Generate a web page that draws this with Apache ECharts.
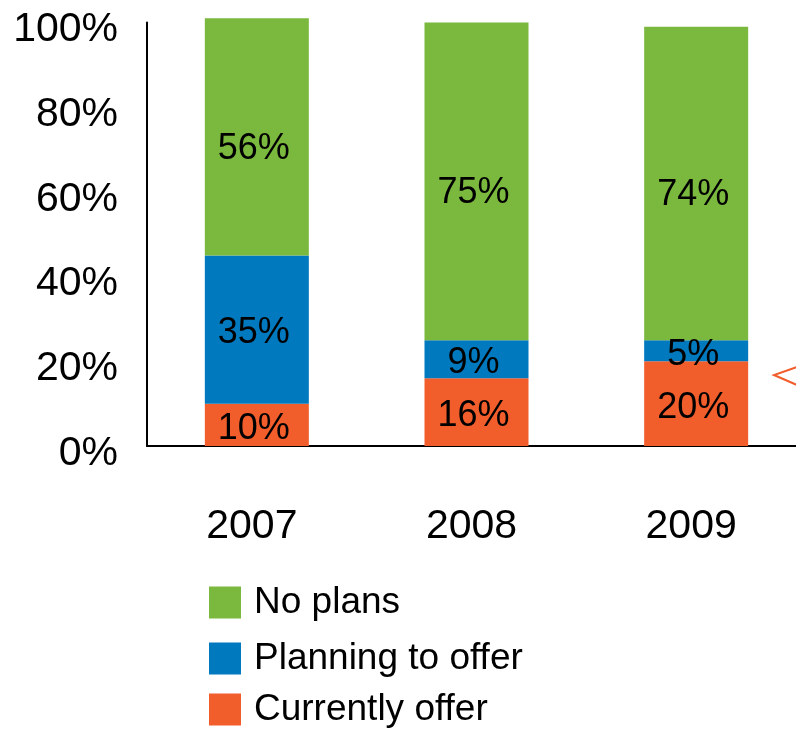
<!DOCTYPE html>
<html>
<head>
<meta charset="utf-8">
<script src="https://cdn.jsdelivr.net/npm/echarts@6/dist/echarts.min.js"></script>
<style>
  html, body { margin: 0; padding: 0; background: #fff; overflow: hidden; }
  /* the plot runs past the right edge of the page, as in the slide it came from */
  #chart { width: 812px; height: 729px; }
</style>
</head>
<body>
<div id="chart"></div>
<script>
// Survey answers by year, as percent of respondents
const years = ['2007', '2008', '2009'];
const currentlyOffer = [10, 16, 20];
const planningToOffer = [35, 9, 5];
const noPlans = [56, 75, 74];
const yTicks = [0, 20, 40, 60, 80, 100];

const FONT = '"Liberation Sans", Arial, sans-serif';
const GREEN = '#7AB83E';
const BLUE = '#0079BE';
const ORANGE = '#F15D2B';

const chart = echarts.init(document.getElementById('chart'), null, { renderer: 'canvas' });

function barSeries(name, data, color, labelOffset) {
  return {
    name: name,
    type: 'bar',
    stack: 'total',
    data: data,
    barWidth: 104,
    clip: false,
    itemStyle: { color: color },
    label: {
      show: true,
      position: 'inside',
      formatter: '{c}%',
      color: '#000',
      fontSize: 36,
      fontFamily: FONT,
      offset: labelOffset
    }
  };
}

function legendRow(name, top) {
  return {
    data: [name],
    left: 209,
    top: top,
    padding: 0,
    orient: 'vertical',
    icon: 'rect',
    itemWidth: 32,
    itemHeight: 32,
    selectedMode: false,
    textStyle: { fontSize: 37, fontFamily: FONT, color: '#000', padding: [0, 0, 0, 8] }
  };
}

chart.setOption({
  animation: false,
  backgroundColor: '#fff',
  grid: { left: 147, top: 22.5, width: 659, height: 423.5, containLabel: false },
  xAxis: {
    type: 'category',
    data: years,
    axisLine: { show: true, lineStyle: { color: '#000', width: 2 } },
    axisTick: { show: false },
    axisLabel: { color: '#000', fontSize: 41, fontFamily: FONT, margin: 60, padding: [0, 10, 0, 0] },
    splitLine: { show: false }
  },
  yAxis: {
    type: 'value',
    min: yTicks[0],
    max: yTicks[yTicks.length - 1],
    interval: yTicks[1] - yTicks[0],
    axisLine: { show: true, lineStyle: { color: '#000', width: 2 } },
    axisTick: { show: false },
    splitLine: { show: false },
    axisLabel: {
      color: '#000', fontSize: 41, fontFamily: FONT, margin: 29,
      formatter: '{value}%', verticalAlign: 'top', lineHeight: 15
    }
  },
  legend: [
    legendRow('No plans', 584),
    legendRow('Planning to offer', 640),
    legendRow('Currently offer', 691)
  ],
  series: [
    barSeries('Currently offer', currentlyOffer, ORANGE, [-3, 4]),
    barSeries('Planning to offer', planningToOffer, BLUE, [-3, 4]),
    barSeries('No plans', noPlans, GREEN, [-3, 12])
  ],
  graphic: [{
    type: 'polyline',
    silent: true,
    shape: { points: [[797, 367], [774, 375], [797, 385]] },
    style: { stroke: ORANGE, lineWidth: 2, fill: null }
  }]
});
</script>
</body>
</html>
